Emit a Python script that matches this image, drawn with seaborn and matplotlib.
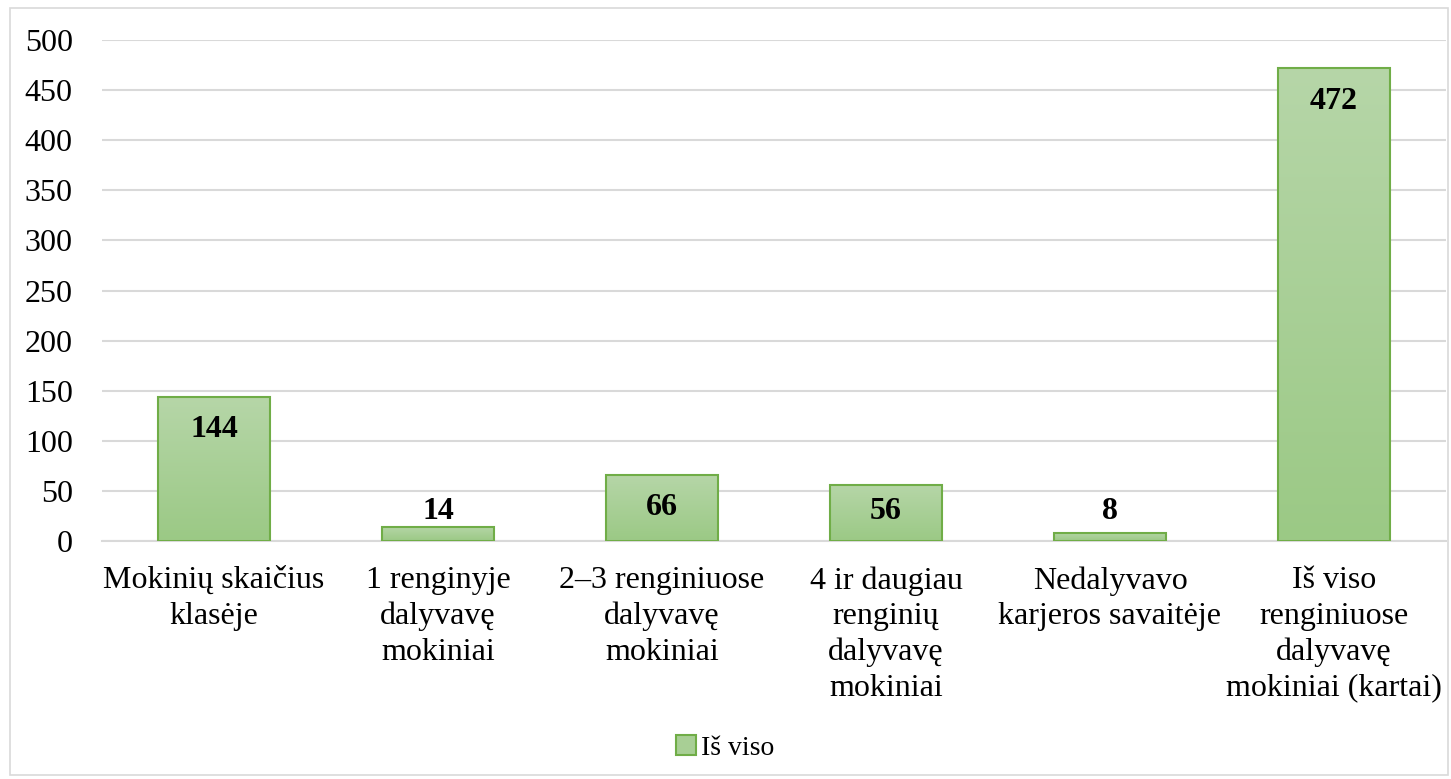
import numpy as np
import matplotlib
matplotlib.use("Agg")
import matplotlib.pyplot as plt
import seaborn as sns
from matplotlib.colors import LinearSegmentedColormap
from matplotlib.patches import Patch, Rectangle

# Chart data
categories = [
    "Mokinių skaičius\nklasėje",
    "1 renginyje\ndalyvavę\nmokiniai",
    "2–3 renginiuose\ndalyvavę\nmokiniai",
    "4 ir daugiau\nrenginių\ndalyvavę\nmokiniai",
    "Nedalyvavo\nkarjeros savaitėje",
    "Iš viso\nrenginiuose\ndalyvavę\nmokiniai (kartai)",
]
values = [144, 14, 66, 56, 8, 472]
series_name = "Iš viso"
y_ticks = [0, 50, 100, 150, 200, 250, 300, 350, 400, 450, 500]

sns.set_theme(style="white")
plt.rcParams["font.family"] = ["Liberation Serif", "DejaVu Serif"]
plt.rcParams["text.color"] = "black"

fig = plt.figure(figsize=(14.51, 7.79), dpi=100)
ax = fig.add_axes([102 / 1451, 238 / 779, 1344 / 1451, 501 / 779])

sns.barplot(x=categories, y=values, color="#a8cf95", width=0.5,
            edgecolor="#70ad47", linewidth=1.5, ax=ax, zorder=2)

# gradient fill clipped to each bar
grad = LinearSegmentedColormap.from_list("g", ["#9bc985", "#b6d6a8"])
gimg = np.linspace(0, 1, 256).reshape(-1, 1)
for bar in ax.patches:
    x0, y0 = bar.get_x(), bar.get_y()
    w, h = bar.get_width(), bar.get_height()
    im = ax.imshow(gimg, cmap=grad, origin="lower", aspect="auto",
                   extent=[x0, x0 + w, y0, y0 + h], zorder=2.5)
    im.set_clip_path(bar)
    bar.set_facecolor("none")
    bar.set_zorder(3)

ax.set_xlim(-0.5, len(categories) - 0.5)
ax.set_ylim(0, 500)
ax.set_yticks(y_ticks)
ax.yaxis.grid(True, color="#d9d9d9", linewidth=1.5, zorder=0)
ax.set_axisbelow(True)
for s in ["left", "right", "top"]:
    ax.spines[s].set_visible(False)
ax.spines["bottom"].set_color("#d9d9d9")
ax.spines["bottom"].set_linewidth(1.5)
ax.tick_params(axis="y", length=0, pad=21, labelsize=23, labelcolor="black")
ax.tick_params(axis="x", length=0, pad=18, labelsize=23, labelcolor="black")
for t in ax.get_xticklabels():
    t.set_linespacing(1.3)
ax.set_xlabel("")
ax.set_ylabel("")

# value labels (inside end, pushed above for short bars)
for i, v in enumerate(values):
    ax.text(i, max(v - 33, 29), str(v), ha="center", va="center",
            fontsize=23, fontweight="bold", color="black", zorder=5)

handle = Patch(facecolor="#a8cf95", edgecolor="#70ad47", linewidth=1.5)
leg = fig.legend([handle], [series_name], loc="center",
                 bbox_to_anchor=(0.5, 1 - 748 / 779), frameon=False,
                 fontsize=20, handlelength=0.7, handleheight=0.7,
                 handletextpad=0.2)
for t in leg.get_texts():
    t.set_color("black")

# outer chart border
fig.add_artist(Rectangle((10 / 1451, 4 / 779), 1438 / 1451, 767 / 779,
                         transform=fig.transFigure, fill=False,
                         edgecolor="#d9d9d9", linewidth=1.2))

fig.savefig("out.png", dpi=100)
